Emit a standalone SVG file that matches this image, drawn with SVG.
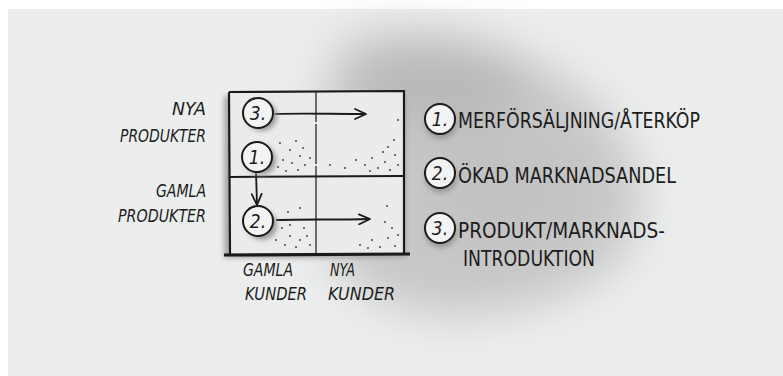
<svg xmlns="http://www.w3.org/2000/svg" width="783" height="376" viewBox="0 0 783 376">
<defs>
<filter id="blur" x="-50%" y="-50%" width="200%" height="200%"><feGaussianBlur stdDeviation="22"/></filter>
<filter id="sblur" x="-50%" y="-50%" width="200%" height="200%"><feGaussianBlur stdDeviation="2.5"/></filter>
<marker id="arr" markerWidth="14" markerHeight="12" refX="12" refY="6" orient="auto" markerUnits="userSpaceOnUse">
<path d="M1,1 L12,6 L1,11" fill="none" stroke="#1a1a1a" stroke-width="1.8" stroke-linecap="round" stroke-linejoin="round"/>
</marker>
<style>
.hand{font-family:"DejaVu Sans Condensed","DejaVu Sans",sans-serif;fill:#1c1c1c;}
.ax{font-size:17px;font-style:italic;}
.lg{font-size:22px;}
.num{font-size:19px;font-style:italic;text-anchor:middle;}
.circ{fill:#f3f3f3;stroke:#1a1a1a;stroke-width:2;}
.shadow{fill:#9a9a9a;filter:url(#sblur);}
.grid{stroke:#1a1a1a;fill:none;}
.dot{fill:#333;}
</style>
</defs>
<rect width="783" height="376" fill="#ffffff"/>
<rect x="8" y="9" width="775" height="367" fill="#ebeeed"/>
<g filter="url(#blur)">
<path d="M345,40 C400,22 490,35 560,75 C620,115 650,165 640,220 C630,280 545,312 465,316 C395,318 345,290 325,240 C310,180 315,85 345,40 Z" fill="#c8c8c8"/>
<ellipse cx="440" cy="85" rx="85" ry="45" fill="#b9b9b9"/>
<ellipse cx="500" cy="190" rx="80" ry="60" fill="#c2c2c2"/>
</g>

<g id="matrix">
<rect x="224" y="96" width="182" height="162" fill="#a8a8a8" filter="url(#sblur)"/>
<rect x="229" y="92" width="175" height="162" fill="#ebebeb"/>
<path class="grid" d="M229,92 L404,91 L404,254 M229,92 L230,254" stroke-width="2.2"/>
<path class="grid" d="M230,177 L403,176" stroke-width="2"/>
<path class="grid" d="M316,92 L316,254" stroke-width="1.2" stroke-dasharray="30 2 40 2 200 0"/>
<path class="grid" d="M224,255 L410,254" stroke-width="3.2"/>
<g id="dots">
<circle class="dot" cx="280" cy="143" r="0.9"/><circle class="dot" cx="290" cy="150" r="0.9"/><circle class="dot" cx="300" cy="156" r="0.9"/>
<circle class="dot" cx="283" cy="160" r="0.9"/><circle class="dot" cx="292" cy="163" r="0.9"/><circle class="dot" cx="305" cy="165" r="0.9"/>
<circle class="dot" cx="278" cy="167" r="0.9"/><circle class="dot" cx="298" cy="170" r="0.9"/><circle class="dot" cx="310" cy="158" r="0.9"/>
<circle class="dot" cx="286" cy="171" r="0.9"/><circle class="dot" cx="303" cy="148" r="0.9"/><circle class="dot" cx="296" cy="141" r="0.9"/>
<circle class="dot" cx="356" cy="160" r="0.9"/><circle class="dot" cx="365" cy="165" r="0.9"/><circle class="dot" cx="372" cy="158" r="0.9"/>
<circle class="dot" cx="378" cy="168" r="0.9"/><circle class="dot" cx="385" cy="162" r="0.9"/><circle class="dot" cx="390" cy="170" r="0.9"/>
<circle class="dot" cx="395" cy="155" r="0.9"/><circle class="dot" cx="398" cy="165" r="0.9"/><circle class="dot" cx="383" cy="152" r="0.9"/>
<circle class="dot" cx="370" cy="171" r="0.9"/><circle class="dot" cx="345" cy="168" r="0.9"/><circle class="dot" cx="394" cy="140" r="0.9"/>
<circle class="dot" cx="398" cy="120" r="0.9"/><circle class="dot" cx="330" cy="165" r="0.9"/><circle class="dot" cx="388" cy="147" r="0.9"/>
<circle class="dot" cx="282" cy="228" r="0.9"/><circle class="dot" cx="290" cy="236" r="0.9"/><circle class="dot" cx="300" cy="240" r="0.9"/>
<circle class="dot" cx="285" cy="245" r="0.9"/><circle class="dot" cx="296" cy="247" r="0.9"/><circle class="dot" cx="307" cy="236" r="0.9"/>
<circle class="dot" cx="276" cy="240" r="0.9"/><circle class="dot" cx="304" cy="228" r="0.9"/><circle class="dot" cx="290" cy="225" r="0.9"/>
<circle class="dot" cx="310" cy="245" r="0.9"/><circle class="dot" cx="300" cy="208" r="0.9"/><circle class="dot" cx="288" cy="212" r="0.9"/>
<circle class="dot" cx="360" cy="245" r="0.9"/><circle class="dot" cx="372" cy="240" r="0.9"/><circle class="dot" cx="380" cy="247" r="0.9"/>
<circle class="dot" cx="388" cy="238" r="0.9"/><circle class="dot" cx="395" cy="246" r="0.9"/><circle class="dot" cx="392" cy="228" r="0.9"/>
<circle class="dot" cx="385" cy="222" r="0.9"/><circle class="dot" cx="398" cy="235" r="0.9"/><circle class="dot" cx="368" cy="248" r="0.9"/>
<circle class="dot" cx="387" cy="206" r="0.9"/>
</g>
</g>

<g id="axis-labels" class="hand ax">
<text x="206" y="115" text-anchor="end" textLength="34" lengthAdjust="spacingAndGlyphs">NYA</text>
<text x="206" y="142" text-anchor="end" textLength="86" lengthAdjust="spacingAndGlyphs">PRODUKTER</text>
<text x="206" y="197" text-anchor="end" textLength="50" lengthAdjust="spacingAndGlyphs">GAMLA</text>
<text x="206" y="222" text-anchor="end" textLength="88" lengthAdjust="spacingAndGlyphs">PRODUKTER</text>
<text x="243" y="276" textLength="50" lengthAdjust="spacingAndGlyphs">GAMLA</text>
<text x="245" y="300" textLength="62" lengthAdjust="spacingAndGlyphs">KUNDER</text>
<text x="330" y="276" textLength="25" lengthAdjust="spacingAndGlyphs">NYA</text>
<text x="328" y="300" textLength="67" lengthAdjust="spacingAndGlyphs">KUNDER</text>
</g>

<g id="connectors">
<path d="M274,114 C300,113 330,114 366,114" fill="none" stroke="#1a1a1a" stroke-width="1.8" marker-end="url(#arr)"/>
<path d="M276,220 C305,219 335,220 370,219" fill="none" stroke="#1a1a1a" stroke-width="1.8" marker-end="url(#arr)"/>
<path d="M256,172 L257,205" fill="none" stroke="#1a1a1a" stroke-width="1.8" marker-end="url(#arr)"/>
</g>

<g id="node-3">
<circle class="shadow" cx="262" cy="116" r="15"/>
<circle class="circ" cx="258" cy="113" r="15"/>
<text class="hand num" x="258" y="120">3.</text>
</g>
<g id="node-1">
<circle class="shadow" cx="261" cy="160" r="15"/>
<circle class="circ" cx="257" cy="157" r="15"/>
<text class="hand num" x="257" y="164">1.</text>
</g>
<g id="node-2">
<circle class="shadow" cx="262" cy="225" r="15"/>
<circle class="circ" cx="258" cy="221" r="15"/>
<text class="hand num" x="258" y="228">2.</text>
</g>

<g id="legend-1">
<circle class="shadow" cx="441" cy="123" r="16"/>
<circle class="circ" cx="440" cy="119" r="15"/>
<text class="hand num" x="440" y="126">1.</text>
<text class="hand lg" x="458" y="128" textLength="242" lengthAdjust="spacingAndGlyphs">MERFÖRSÄLJNING/ÅTERKÖP</text>
</g>
<g id="legend-2">
<circle class="shadow" cx="441" cy="177" r="16"/>
<circle class="circ" cx="440" cy="173" r="15"/>
<text class="hand num" x="440" y="180">2.</text>
<text class="hand lg" x="458" y="183" textLength="218" lengthAdjust="spacingAndGlyphs">ÖKAD MARKNADSANDEL</text>
</g>
<g id="legend-3">
<circle class="shadow" cx="441" cy="232" r="16"/>
<circle class="circ" cx="440" cy="228" r="15"/>
<text class="hand num" x="440" y="235">3.</text>
<text class="hand lg" x="458" y="238" textLength="207" lengthAdjust="spacingAndGlyphs">PRODUKT/MARKNADS-</text>
<text class="hand lg" x="463" y="266" textLength="132" lengthAdjust="spacingAndGlyphs">INTRODUKTION</text>
</g>
</svg>
